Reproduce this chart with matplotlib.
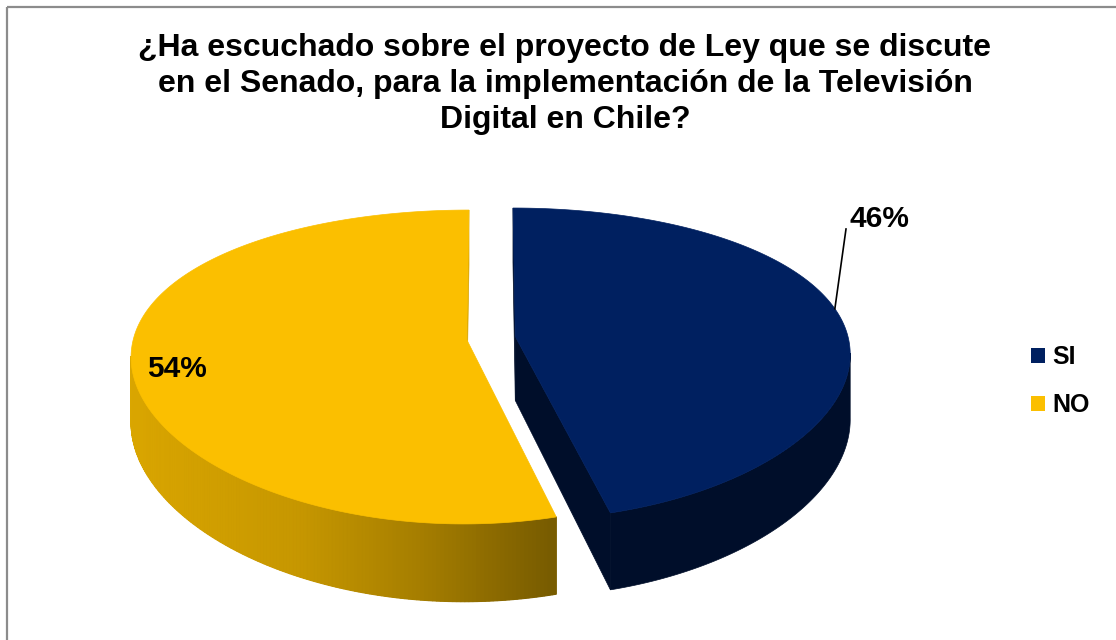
import numpy as np
import matplotlib
matplotlib.use("Agg")
import matplotlib.pyplot as plt
from matplotlib.patches import Polygon, Rectangle, Patch

# Survey answers
categories = ["SI", "NO"]
shares = [46, 54]
top_colors = ["#002060", "#FBBF00"]
title = ("¿Ha escuchado sobre el proyecto de Ley que se discute\n"
         "en el Senado, para la implementación de la Televisión\n"
         "Digital en Chile?")

plt.rcParams["font.family"] = ["Liberation Sans", "DejaVu Sans"]

W, H = 1116, 640
fig = plt.figure(figsize=(W / 100, H / 100), dpi=100)
ax = fig.add_axes([0, 0, 1, 1])
ax.set_xlim(0, W)
ax.set_ylim(H, 0)
ax.axis("off")

# ---- 3D pie projection (tilted disc with perspective) ----
CX, CY = 491.0, 338.0
RX, RY = 333.0, 151.6
KX, KY = 0.107, 0.1755
THICK = 64.0
EXPLODE = 0.0737


def project(x, z, h=0.0):
    sx = CX + RX * x / (1 - KX * z)
    sy = CY + (RY * z + THICK * h) / (1 - KY * z)
    return sx, sy


def rim(theta_deg, off, h=0.0):
    t = np.radians(theta_deg)
    x = np.cos(t) + off[0]
    z = -np.sin(t) + off[1]
    return project(x, z, h)


def rgb_scale(hex_color, f):
    c = np.array(matplotlib.colors.to_rgb(hex_color))
    return tuple(np.clip(c * f, 0, 1))


def shoelace(pts):
    p = np.asarray(pts)
    x, y = p[:, 0], p[:, 1]
    return 0.5 * np.sum(x * np.roll(y, -1) - np.roll(x, -1) * y)


fractions = np.array(shares, float) / np.sum(shares)
silhouette = np.degrees(np.arcsin(KX))
vis_lo, vis_hi = -180 + silhouette, -silhouette

slices = []
start = 90.0
for cat, frac, col in zip(categories, fractions, top_colors):
    t1 = start
    t2 = start - 360 * frac
    mid = np.radians((t1 + t2) / 2)
    off = (EXPLODE * np.cos(mid), -EXPLODE * np.sin(mid))
    slices.append(dict(cat=cat, t1=t1, t2=t2, off=off, col=col))
    start = t2

# yellow wall shading, light from the left
shade_x = [125, 300, 420, 550]
shade_f = [0.87, 0.79, 0.66, 0.48]
BLUE_SIDE = 0.44

# draw NO first (left/back), then SI
for s in sorted(slices, key=lambda d: d["cat"] != "NO"):
    off, col = s["off"], s["col"]
    apex_t = project(off[0], off[1], 0)
    apex_b = project(off[0], off[1], 1)
    is_blue = s["cat"] == "SI"

    # radial cut faces
    for t, side in ((s["t1"], -1), (s["t2"], 1)):
        face = [apex_t, rim(t, off, 0), rim(t, off, 1), apex_b]
        if shoelace(face) * side > 0:
            fc = rgb_scale(col, BLUE_SIDE) if is_blue else rgb_scale(col, 0.87)
            ax.add_patch(Polygon(face, closed=True, fc=fc, ec=fc, lw=0.5))

    # outer wall (front-facing part)
    lo, hi = sorted((s["t1"], s["t2"]))
    a, b = max(lo, vis_lo), min(hi, vis_hi)
    if b > a:
        th = np.linspace(a, b, 160)
        top = [rim(t, off, 0) for t in th]
        bot = [rim(t, off, 1) for t in th[::-1]]
        if is_blue:
            fc = rgb_scale(col, BLUE_SIDE)
            ax.add_patch(Polygon(top + bot, closed=True, fc=fc, ec=fc, lw=0.5))
        else:
            base = rgb_scale(col, 0.7)
            ax.add_patch(Polygon(top + bot, closed=True, fc=base, ec="none"))
            for i in range(len(th) - 1):
                p0, p1 = rim(th[i], off, 0), rim(th[i + 1], off, 0)
                q1, q0 = rim(th[i + 1], off, 1), rim(th[i], off, 1)
                xm = 0.5 * (p0[0] + p1[0])
                fc = rgb_scale(col, np.interp(xm, shade_x, shade_f))
                ax.add_patch(Polygon([p0, p1, q1, q0], closed=True,
                                     fc=fc, ec=fc, lw=0.8))

    # top face
    th = np.linspace(s["t1"], s["t2"], 300)
    arc = [rim(t, off, 0) for t in th]
    ax.add_patch(Polygon([apex_t] + arc, closed=True, fc=col, ec=col, lw=0.5))

# ---- data labels ----
lab_font = dict(fontsize=21.5, fontweight="bold", color="black")
si = slices[0]
p_edge = rim(11, si["off"], 0)
ax.plot([p_edge[0], 846], [p_edge[1], 229], color="black", lw=1.2)
ax.text(879, 219, f"{shares[0]}%", ha="center", va="center", **lab_font)
ax.text(177, 369, f"{shares[1]}%", ha="center", va="center", **lab_font)

# ---- title ----
fig.text(565 / W, 1 - 84 / H, title, ha="center", va="center",
         fontsize=23, fontweight="bold", linespacing=1.25)

# ---- legend ----
handles = [Patch(fc=c, ec="none", label=l) for l, c in zip(categories, top_colors)]
fig.legend(handles=handles, loc="center left",
           bbox_to_anchor=(1031 / W, 1 - 381 / H), frameon=False,
           prop=dict(size=18, weight="bold"), handlelength=0.55,
           handleheight=0.55, handletextpad=0.3, labelspacing=0.95,
           borderpad=0, borderaxespad=0)

# chart area frame
ax.add_patch(Rectangle((7, 7), 1140, 660, fill=False, ec="#8c8c8c", lw=1.6))

fig.savefig("out.png", dpi=100)
